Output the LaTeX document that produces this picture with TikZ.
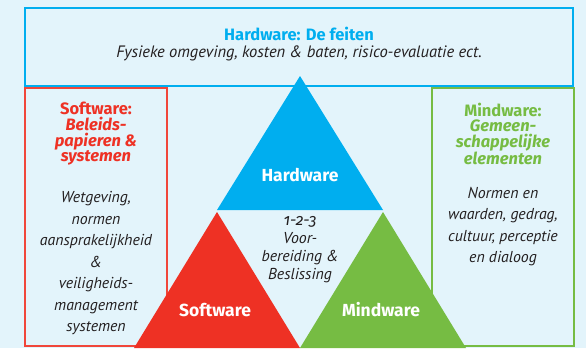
\documentclass[tikz,border=0pt]{standalone}
\usepackage{fontspec}
\setmainfont{PT Sans}
\newfontfamily\fira{Fira Sans}
\newfontfamily\firaold{Fira Sans}[Numbers=OldStyle]
\definecolor{bgc}{HTML}{E3F4FB}
\definecolor{hblue}{HTML}{00AEEF}
\definecolor{sred}{HTML}{EE3124}
\definecolor{mgreen}{HTML}{76BC43}
\definecolor{txt}{HTML}{231F20}
\tikzset{
  boxline/.style={line width=1.5pt},
  trilabel/.style={text=white, font=\fira\fontsize{17.5}{19}\selectfont\bfseries, inner sep=0pt},
  headtxt/.style={align=center, inner sep=0pt, font=\fira\fontsize{16.5}{15.7}\selectfont\bfseries},
  bodytxt/.style={align=center, inner sep=0pt, text=txt, font=\fontsize{15.8}{21.5}\selectfont\itshape},
}
\begin{document}
\begin{tikzpicture}[x=1pt,y=-1pt]
\fill[bgc] (0,0) rectangle (586,348);
\useasboundingbox (0,0) rectangle (586,348);
% boxes
\draw[boxline, draw=hblue] (25,8) rectangle (573,86);
\draw[boxline, draw=sred!90] (25,88) rectangle (167,346);
\draw[boxline, draw=mgreen] (432,88) rectangle (574,346);
% triangles
\coordinate (ht) at (300,76);
\coordinate (hl) at (217,210);
\coordinate (hr) at (383,210);
\coordinate (st) at (217,212);
\coordinate (sl) at (134,348);
\coordinate (sr) at (300,348);
\coordinate (mt) at (383,212);
\coordinate (ml) at (300,348);
\coordinate (mr) at (466,348);
\fill[hblue] (ht) -- (hl) -- (hr) -- cycle;
\fill[sred] (st) -- (sl) -- (sr) -- cycle;
\fill[mgreen] (mt) -- (ml) -- (mr) -- cycle;
\node[trilabel] (hlab) at (300,175) {Hardware};
\node[trilabel] (slab) at (215,310) {Software};
\node[trilabel] (mlab) at (381,310) {Mindware};
% top text
\node[headtxt, text=hblue] (toph) at (299,33.5) {Hardware: De feiten};
\node[bodytxt, font=\fontsize{16.5}{18}\selectfont\itshape] (topb) at (299,53.5) {Fysieke omgeving, kosten \& baten, risico-evaluatie ect.};
% left
\node[headtxt, text=sred] (lefth) at (96,134) {Software:\\\itshape Beleids-\\\itshape papieren \&\\\itshape systemen};
\node[bodytxt] (leftb) at (96,263.5) {Wetgeving,\\normen\\aansprakelijkheid\\\&\\veiligheids-\\management\\systemen};
% right
\node[headtxt, text=mgreen] (righth) at (503,134) {Mindware:\\\itshape Gemeen-\\\itshape schappelijke\\\itshape elementen};
\node[bodytxt] (rightb) at (503,226.5) {Normen en\\waarden, gedrag,\\cultuur, perceptie\\en dialoog};
% center
\node[bodytxt, font=\fontsize{15.8}{18}\selectfont\itshape] (mid) at (300,250) {{\firaold 1-2-3}\\Voor-\\bereiding \&\\Beslissing};
\end{tikzpicture}
\end{document}
